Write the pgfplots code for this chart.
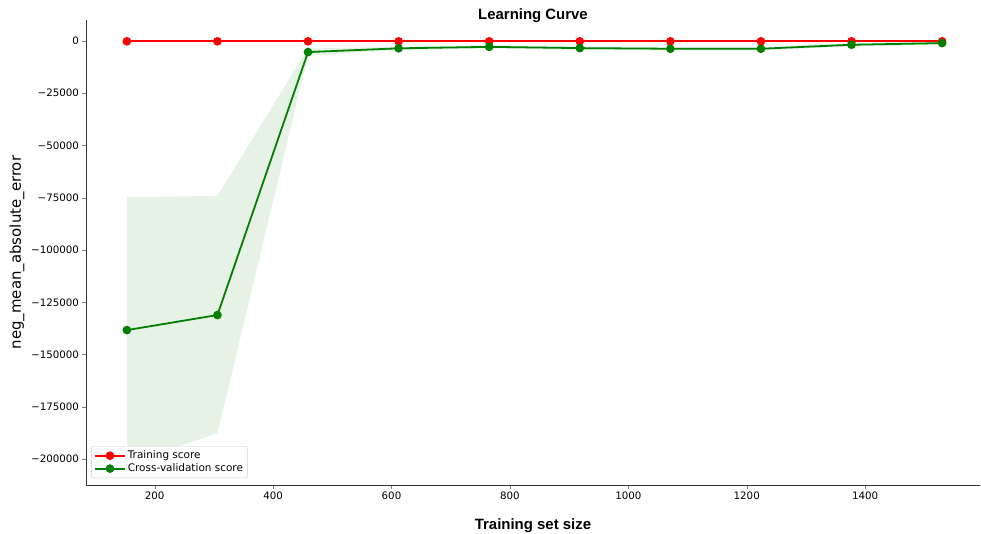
\documentclass[border=0pt]{standalone}
\usepackage{pgfplots}
\pgfplotsset{compat=1.18}
\usepackage{fontspec}
\setmainfont{DejaVu Sans}
\newfontfamily\arialfont{Liberation Sans}
\definecolor{mplgreen}{rgb}{0,0.5,0}
\definecolor{mplred}{rgb}{1,0,0}
\definecolor{bandgreen}{rgb}{0.9,0.95,0.9}
\begin{document}
\begin{tikzpicture}
\path[use as bounding box] (-86bp,-49bp) rectangle (895bp,485bp);
\begin{axis}[
  at={(0,0)}, anchor=south west,
  scale only axis, width=894bp, height=465bp,
  xmin=84, xmax=1594, ymin=-212400, ymax=10050,
  axis x line*=bottom, axis y line*=left,
  axis line style={-, black!80, line width=0.8pt},
  tick align=outside, major tick length=3.5bp,
  xtick={200,400,600,800,1000,1200,1400},
  ytick={-200000,-175000,-150000,-125000,-100000,-75000,-50000,-25000,0},
  yticklabels={−200000,−175000,−150000,−125000,−100000,−75000,−50000,−25000,0},
  scaled y ticks=false, scaled x ticks=false,
  /pgf/number format/assume math mode=true,
  /pgf/number format/1000 sep={},
  tick label style={font=\fontsize{10.3}{12}\selectfont},
  xlabel={\arialfont\bfseries Training set size},
  xlabel style={font=\fontsize{15}{18}\selectfont, at={(0.5,0)}, yshift=-30bp},
  ylabel={neg\_mean\_absolute\_error},
  ylabel style={font=\fontsize{15}{18}\selectfont},
  title={\arialfont\bfseries Learning Curve},
  title style={font=\fontsize{15}{18}\selectfont, yshift=-12bp},
  legend style={at={(0.006,0.015)}, anchor=south west, font=\fontsize{10.5}{12}\selectfont,
    draw=black!20, rounded corners=2bp, fill=white,
    row sep=-0.5bp, inner sep=2.5bp},
  legend cell align=left,
  legend image code/.code={\draw[#1, mark=none] (0bp,0bp) -- (30bp,0bp); \draw[#1, only marks] plot coordinates {(15bp,0bp)};},
]
\addplot[draw=none, fill=bandgreen, forget plot] coordinates {
(153,-74700) (306,-74100) (459,-3600) (612,-2800) (765,-2000) (918,-2600) (1071,-2900) (1224,-2900) (1377,-1000) (1530,-300)
(1530,-1700) (1377,-2600) (1224,-4500) (1071,-4500) (918,-4200) (765,-3600) (612,-4400) (459,-7000) (306,-187600) (153,-202300)
} -- cycle;
\addplot[mplred, line width=1.8pt, mark=*, mark size=3.4bp, mark options={solid}] coordinates {
(153,-150) (306,-150) (459,-150) (612,-150) (765,-150) (918,-150) (1071,-150) (1224,-150) (1377,-150) (1530,-150)
};
\addlegendentry{Training score}
\addplot[mplgreen, line width=1.8pt, mark=*, mark size=3.4bp, mark options={solid}] coordinates {
(153,-138300) (306,-131100) (459,-5300) (612,-3500) (765,-2800) (918,-3400) (1071,-3700) (1224,-3700) (1377,-1800) (1530,-1000)
};
\addlegendentry{Cross-validation score}
\end{axis}
\end{tikzpicture}
\end{document}
